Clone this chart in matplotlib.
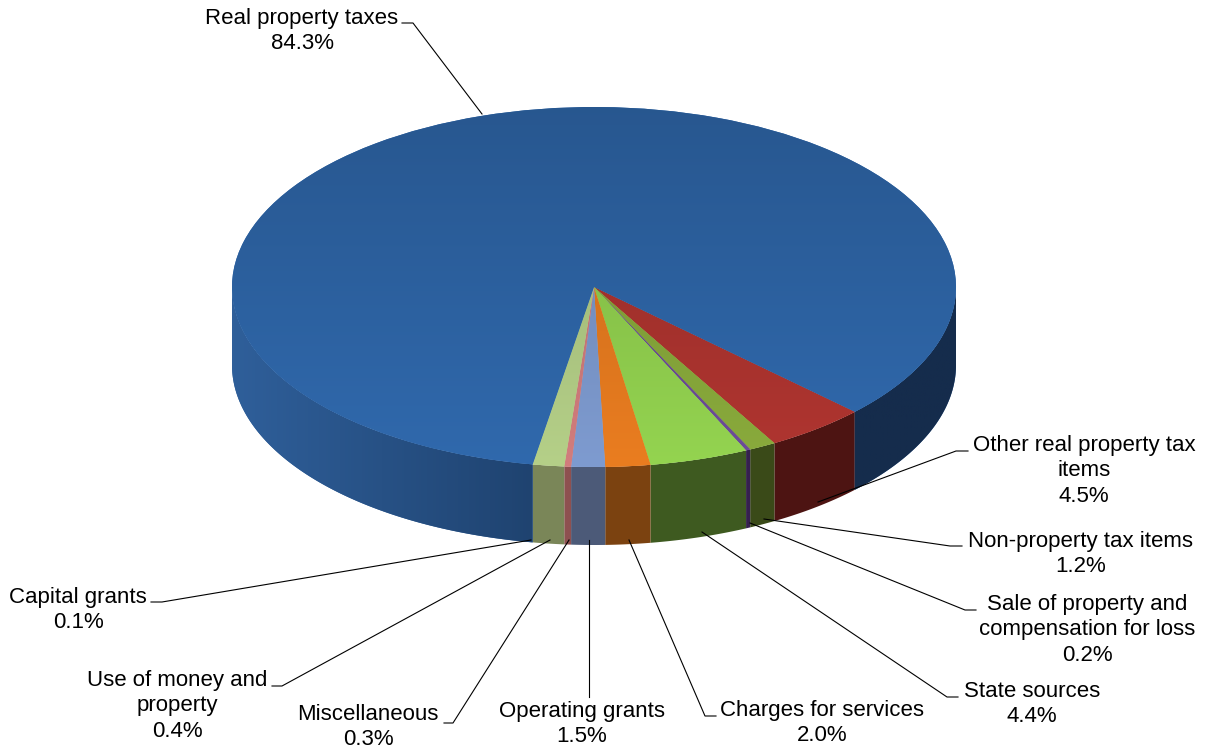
import matplotlib
matplotlib.use('Agg')
import matplotlib.pyplot as plt
import numpy as np
from matplotlib.colors import LinearSegmentedColormap, to_rgb
from matplotlib.lines import Line2D

WIDTH, HEIGHT = 1211, 750
CENTER_X, CENTER_Y = 594, 287
RADIUS_X, RADIUS_Y = 362, 180
DEPTH = 78 / RADIUS_Y

# slice shares as they look in the picture, clockwise from the red slice
slice_names = ['Other real property tax items', 'Non-property tax items',
               'Sale of property and compensation for loss', 'State sources',
               'Charges for services', 'Operating grants', 'Miscellaneous',
               'Use of money and property', 'Real property taxes']
slice_shares = [4.5, 1.2, 0.2, 4.4, 2.0, 1.5, 0.3, 1.4, 84.4]
top_colors = ['#b03530', '#8aab3c', '#6d4c9a', '#94d450', '#ea7d20',
              '#7e9bd0', '#d27d7d', '#b5d088', '#3069ad']
wall_colors = ['#4d1412', '#3a4a18', '#35204f', '#3e5a20', '#7b4210',
               '#4c5a78', '#8e5050', '#7a8658', None]

# wall of the big blue slice, dark towards the right
blue_wall_x = [-1.0, -0.17, 0.5, 1.0]
blue_wall_colors = ['#2f5f9a', '#1f4370', '#152c4c', '#152c4c']

label_texts = ['Real property taxes\n84.3%', 'Other real property tax\nitems\n4.5%',
               'Non-property tax items\n1.2%', 'Sale of property and\ncompensation for loss\n0.2%',
               'State sources\n4.4%', 'Charges for services\n2.0%', 'Operating grants\n1.5%',
               'Miscellaneous\n0.3%', 'Use of money and\nproperty\n0.4%', 'Capital grants\n0.1%']
label_x = [302, 1084, 1081, 1087, 1032, 822, 582, 368, 177, 78]
label_y = [31, 471, 554, 630, 704, 723, 724, 727, 706, 610]
leaders = [[(402, 23), (413, 23), (482, 114)],
           [(968, 451), (956, 451), (818, 502)],
           [(962, 546), (950, 546), (764, 519)],
           [(976, 610), (965, 610), (750, 523)],
           [(958, 697), (947, 697), (702, 532)],
           [(716, 716), (705, 716), (629, 540)],
           [(589, 697), (589, 540)],
           [(444, 723), (453, 723), (569, 540)],
           [(272, 686), (282, 686), (550, 540)],
           [(151, 602), (162, 602), (531, 540)]]


def front_ranges(wedge):
    # parts of the slice that lie on the near half of the ellipse
    ranges = []
    for k in (-720, -360, 0, 360):
        start = max(wedge.theta1, 180 + k)
        stop = min(wedge.theta2, 360 + k)
        if stop > start:
            ranges.append((start, stop))
    return ranges


def draw_wall(ax, wedge, color):
    for start, stop in front_ranges(wedge):
        t = np.radians(np.linspace(start, stop, 200))
        x = np.cos(t)
        y = np.sin(t)
        xs = np.concatenate([x, x[::-1]])
        ys = np.concatenate([y, y[::-1] - DEPTH])
        if color is not None:
            ax.fill(xs, ys, color=color, linewidth=0, zorder=1)
            continue
        poly = ax.fill(xs, ys, color=blue_wall_colors[0], linewidth=0, zorder=1)[0]
        stops = [(v + 1) / 2 for v in blue_wall_x]
        cmap = LinearSegmentedColormap.from_list('wall', list(zip(stops, blue_wall_colors)))
        gradient = np.linspace(0, 1, 512).reshape(1, -1)
        im = ax.imshow(gradient, cmap=cmap, extent=(-1, 1, -1 - DEPTH, 0), origin='lower',
                       aspect='auto', zorder=1.5)
        im.set_clip_path(poly)


def shade_top(ax, wedge, color):
    # top face gets a bit darker towards the back
    rgb = np.array(to_rgb(color))
    cmap = LinearSegmentedColormap.from_list('top', [rgb, rgb * 0.83])
    gradient = np.linspace(0, 1, 256).reshape(-1, 1)
    im = ax.imshow(gradient, cmap=cmap, extent=(-1, 1, -1, 1), origin='lower',
                   aspect='auto', zorder=3)
    im.set_clip_path(wedge)


def main():
    plt.rcParams['font.family'] = ['Liberation Sans', 'DejaVu Sans']

    fig = plt.figure(figsize=(WIDTH / 100, HEIGHT / 100), dpi=100, facecolor='white')
    ax = fig.add_axes([0, 0, 1, 1])

    wedges, _ = ax.pie(slice_shares, colors=top_colors, startangle=-43.9, counterclock=False,
                       wedgeprops={'linewidth': 0, 'zorder': 2})

    for wedge, wall, top in zip(wedges, wall_colors, top_colors):
        draw_wall(ax, wedge, wall)
        shade_top(ax, wedge, top)

    ax.set_aspect('auto')
    ax.set_xlim(-CENTER_X / RADIUS_X, (WIDTH - CENTER_X) / RADIUS_X)
    ax.set_ylim((CENTER_Y - HEIGHT) / RADIUS_Y, CENTER_Y / RADIUS_Y)
    ax.axis('off')

    for points in leaders:
        xs = [p[0] / WIDTH for p in points]
        ys = [1 - p[1] / HEIGHT for p in points]
        fig.add_artist(Line2D(xs, ys, color='black', linewidth=0.8))

    for text, x, y in zip(label_texts, label_x, label_y):
        fig.text(x / WIDTH, 1 - y / HEIGHT, text, ha='center', va='center',
                 fontsize=16, color='black', linespacing=1.27)

    fig.savefig('out.png', dpi=100)
    plt.close()


if __name__ == '__main__':
    main()
